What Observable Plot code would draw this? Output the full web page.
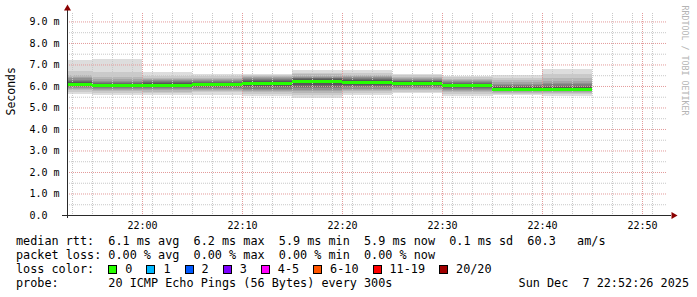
<!DOCTYPE html>
<html><head><meta charset="utf-8">
<script src="https://cdn.jsdelivr.net/npm/d3@7"></script>
<script src="https://cdn.jsdelivr.net/npm/@observablehq/plot@0.6"></script>
<style>
html,body{margin:0;padding:0;background:#fff;}
#wrap{position:relative;width:697px;height:297px;overflow:hidden;background:#fff;}
#wrap svg{position:absolute;left:0;top:0;}
.line{position:absolute;left:16px;height:14px;font-family:"DejaVu Sans Mono",monospace;font-size:11.8px;line-height:14px;color:#000;white-space:pre;}
.item{display:inline-block;margin-right:14px;}
.box{display:inline-block;width:7px;height:7px;border:1px solid #000;vertical-align:-1px;margin-right:8px;}
.stamp{position:absolute;right:8px;top:276px;font-family:"DejaVu Sans Mono",monospace;font-size:11.8px;line-height:14px;color:#000;white-space:pre;}
</style></head><body><div id="wrap"></div>
<script>
// ---- data ----
const day = "2025-12-07";
const intervalEnds = ["21:55","22:00","22:05","22:10","22:15","22:20","22:25","22:30","22:35","22:40","22:45"];
const medians = [6.11, 6.03, 6.06, 6.07, 6.14, 6.21, 6.18, 6.15, 6.03, 5.88, 5.88];
// 20 sorted ping rtts (ms) per 5-minute interval
const ping_2155 = [5.61,5.72,5.80,5.86,5.91,5.95,5.99,6.03,6.06,6.09,6.13,6.16,6.20,6.24,6.29,6.35,6.42,6.52,6.70,7.21];
const ping_2200 = [5.58,5.68,5.75,5.81,5.86,5.90,5.94,5.97,6.00,6.02,6.04,6.07,6.10,6.14,6.19,6.25,6.32,6.43,6.67,7.26];
const ping_2205 = [5.58,5.66,5.74,5.80,5.85,5.90,5.94,5.98,6.02,6.05,6.07,6.10,6.14,6.18,6.22,6.27,6.32,6.39,6.48,6.64];
const ping_2210 = [5.58,5.70,5.77,5.82,5.87,5.91,5.95,5.99,6.03,6.06,6.08,6.11,6.14,6.18,6.22,6.27,6.32,6.39,6.47,6.56];
const ping_2215 = [5.55,5.64,5.71,5.77,5.83,5.88,5.94,5.99,6.05,6.12,6.16,6.20,6.24,6.28,6.32,6.36,6.40,6.45,6.50,6.56];
const ping_2220 = [5.46,5.58,5.68,5.76,5.83,5.90,5.97,6.04,6.12,6.19,6.23,6.27,6.31,6.35,6.39,6.43,6.48,6.54,6.62,6.74];
const ping_2225 = [5.58,5.67,5.75,5.82,5.88,5.94,5.99,6.05,6.11,6.16,6.20,6.24,6.28,6.32,6.36,6.40,6.45,6.51,6.60,6.74];
const ping_2230 = [5.66,5.74,5.80,5.86,5.91,5.96,6.01,6.06,6.10,6.14,6.16,6.19,6.22,6.25,6.29,6.33,6.37,6.43,6.49,6.56];
const ping_2235 = [5.55,5.63,5.70,5.76,5.81,5.86,5.90,5.94,5.98,6.02,6.04,6.07,6.10,6.14,6.18,6.22,6.27,6.33,6.40,6.48];
const ping_2240 = [5.58,5.64,5.69,5.73,5.77,5.80,5.83,5.85,5.87,5.88,5.89,5.91,5.94,5.98,6.03,6.09,6.17,6.27,6.39,6.51];
const ping_2245 = [5.55,5.62,5.68,5.73,5.77,5.80,5.83,5.85,5.87,5.88,5.89,5.92,5.96,6.01,6.07,6.15,6.25,6.38,6.56,6.79];
const pingSets = [ping_2155,ping_2200,ping_2205,ping_2210,ping_2215,ping_2220,ping_2225,ping_2230,ping_2235,ping_2240,ping_2245];
const yTickValues = [0,1,2,3,4,5,6,7,8,9];
const yTickLabels = ["0.0","1.0 m","2.0 m","3.0 m","4.0 m","5.0 m","6.0 m","7.0 m","8.0 m","9.0 m"];
const xTickLabels = ["22:00","22:10","22:20","22:30","22:40","22:50"];
const lossLabels = ["0","1","2","3","4-5","6-10","11-19","20/20"];
const lossColors = ["#26ff00","#00b8ff","#0059ff","#7e00ff","#ff00ff","#ff5500","#ff0000","#a10000"];
const viewStart = "21:52:30", viewEnd = "22:52:30";
const stdDevText = "0.1", relText = "60.3";
const probeText = "20 ICMP Echo Pings (56 Bytes) every 300s";
const stampText = "Sun Dec  7 22:52:26 2025";

// ---- build ----
const t = s => new Date(`${day}T${s.length === 5 ? s + ":00" : s}Z`);
const x0 = t(viewStart), x1 = t(viewEnd);
const step = 300000;
const grays = d3.range(10).map(k => { const c = Math.floor(190/10*(10-(k+1)))+50; return d3.rgb(c,c,c).formatHex(); });
const smokeRows = [];
pingSets.forEach((p, i) => {
  const end = t(intervalEnds[i]), start = new Date(Math.max(+end - step, +x0));
  for (let k = 0; k < 10; k++) smokeRows.push({x1: start, x2: end, lo: p[k], hi: p[19-k], fill: grays[k]});
});
const medianRows = medians.map((m, i) => ({x1: new Date(Math.max(+t(intervalEnds[i]) - step, +x0)), x2: t(intervalEnds[i]), median: m}));
const xMajor = xTickLabels.map(t);
const xMinor = d3.utcMinutes(x0, x1, 2).filter(d => d.getUTCMinutes() % 10 !== 0);
const yMinor = d3.range(0.5, 9.3, 1);
const yMajor = yTickValues.slice(1);

const chart = Plot.plot({
  width: 697, height: 297,
  marginLeft: 67, marginRight: 30, marginTop: 15, marginBottom: 82,
  style: {fontFamily: "'DejaVu Sans Mono', monospace", fontSize: "10px", background: "transparent", color: "#000", overflow: "visible"},
  x: {type: "utc", domain: [x0, x1], axis: null},
  y: {domain: [0, 9.3], axis: null},
  marks: [
    Plot.rect(smokeRows, {x1: "x1", x2: "x2", y1: "lo", y2: "hi", fill: "fill", shapeRendering: "crispEdges"}),
    Plot.ruleY(yMinor, {stroke: "#c8c8c8", strokeDasharray: "1,1"}),
    Plot.ruleX(xMinor, {stroke: "#c8c8c8", strokeDasharray: "1,1", insetTop: -2}),
    Plot.ruleY(yMajor, {stroke: "#e39a9a", strokeDasharray: "1,1"}),
    Plot.ruleX(xMajor, {stroke: "#e39a9a", strokeDasharray: "1,1", insetTop: -2}),
    Plot.ruleY(medianRows, {y: "median", x1: "x1", x2: "x2", stroke: lossColors[0], strokeWidth: 3, shapeRendering: "crispEdges"}),
    Plot.ruleY([0], {stroke: "#2a2a2a", insetLeft: -5, insetRight: -4}),
    Plot.ruleX([x0], {stroke: "#2a2a2a", insetTop: -6, insetBottom: -3}),
    Plot.dot([x0], {x: d => d, frameAnchor: "top", dy: -7, symbol: "triangle", r: 2.6, fill: "#8b0000", stroke: "none"}),
    Plot.dot([0], {y: d => d, frameAnchor: "right", dx: 6, symbol: "triangle", rotate: 90, r: 2.6, fill: "#8b0000", stroke: "none"}),
    Plot.text(yTickValues, {y: d => d, text: (d, i) => yTickLabels[i], frameAnchor: "left", textAnchor: "start", dx: -38, fontSize: 10}),
    Plot.text(xMajor, {x: d => d, text: (d, i) => xTickLabels[i], frameAnchor: "bottom", lineAnchor: "top", dy: 6, fontSize: 10}),
    Plot.text(["Seconds"], {frameAnchor: "left", dx: -56, rotate: -90, fontSize: 11.5}),
    Plot.text(["RRDTOOL / TOBI OETIKER"], {frameAnchor: "top-right", dx: 20, dy: -10, rotate: 90, textAnchor: "start", fill: "#b4b4b4", fontSize: 8.3})
  ]
});
const wrap = document.getElementById("wrap");
wrap.appendChild(chart);

const f1 = v => v.toFixed(1);
function addLine(top, build) {
  const d = document.createElement("div");
  d.className = "line";
  d.style.top = top + "px";
  build(d);
  wrap.appendChild(d);
}
const line1 = `median rtt:  ${f1(d3.mean(medians))} ms avg  ${f1(d3.max(medians))} ms max  ${f1(d3.min(medians))} ms min  ${f1(medians[medians.length-1])} ms now  ${stdDevText} ms sd  ${relText}   am/s`;
const line2 = `packet loss: 0.00 % avg  0.00 % max  0.00 % min  0.00 % now`;
const line4 = `probe:       ${probeText}`;
addLine(234, d => d.textContent = line1);
addLine(248, d => d.textContent = line2);
addLine(262, d => {
  const head = document.createElement("span");
  head.textContent = "loss color:  ";
  d.appendChild(head);
  lossLabels.forEach((l, i) => {
    const it = document.createElement("span");
    it.className = "item";
    const b = document.createElement("span");
    b.className = "box";
    b.style.background = lossColors[i];
    const lab = document.createElement("span");
    lab.textContent = l;
    it.appendChild(b); it.appendChild(lab);
    d.appendChild(it);
  });
});
addLine(276, d => d.textContent = line4);
const st = document.createElement("div");
st.className = "stamp";
st.textContent = stampText;
wrap.appendChild(st);
</script></body></html>
